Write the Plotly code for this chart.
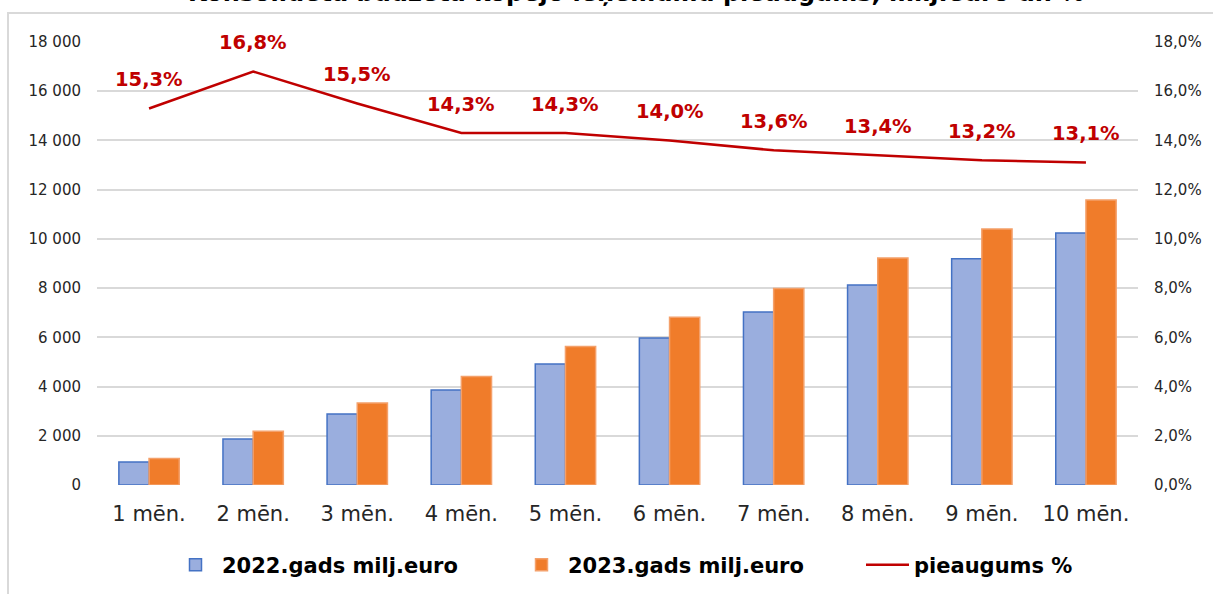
import plotly.graph_objects as go

categories = ["1 mēn.", "2 mēn.", "3 mēn.", "4 mēn.", "5 mēn.", "6 mēn.", "7 mēn.", "8 mēn.", "9 mēn.", "10 mēn."]
values_2022 = [935, 1870, 2886, 3860, 4920, 5975, 7030, 8130, 9190, 10240]
values_2023 = [1078, 2184, 3333, 4412, 5623, 6812, 7986, 9219, 10403, 11581]
growth_pct = [15.3, 16.8, 15.5, 14.3, 14.3, 14.0, 13.6, 13.4, 13.2, 13.1]
growth_labels = ["15,3%", "16,8%", "15,5%", "14,3%", "14,3%", "14,0%", "13,6%", "13,4%", "13,2%", "13,1%"]
left_ticks = [0, 2000, 4000, 6000, 8000, 10000, 12000, 14000, 16000, 18000]
left_tick_text = ["0", "2 000", "4 000", "6 000", "8 000", "10 000", "12 000", "14 000", "16 000", "18 000"]
right_ticks = [0, 2, 4, 6, 8, 10, 12, 14, 16, 18]
right_tick_text = ["0,0%", "2,0%", "4,0%", "6,0%", "8,0%", "10,0%", "12,0%", "14,0%", "16,0%", "18,0%"]
title_text = "Konsolidētā budžeta kopējo ieņēmumu pieaugums, milj.euro un %"

FONT = "DejaVu Sans"
W, H = 1213, 594
L, R, T, B = 97, 75, 42, 109
pw, ph = W - L - R, H - T - B

def px_x(p):
    return (p - L) / pw

def px_y(p):
    return (H - B - p) / ph

fig = go.Figure()
fig.add_trace(go.Bar(
    x=categories, y=values_2022, name="2022.gads milj.euro",
    marker=dict(color="#9aaede", line=dict(color="#4472c4", width=1.5)),
))
fig.add_trace(go.Bar(
    x=categories, y=values_2023, name="2023.gads milj.euro",
    marker=dict(color="#f07c2a", line=dict(color="#f4a06a", width=1.5)),
))
fig.add_trace(go.Scatter(
    x=categories, y=growth_pct, name="pieaugums %", yaxis="y2",
    mode="lines", line=dict(color="#c00000", width=2.5),
))

for c, v, t in zip(categories, growth_pct, growth_labels):
    fig.add_annotation(x=c, y=v, yref="y2", text=t, showarrow=False, yshift=29,
                       font=dict(family=FONT, size=19.5, color="#c00000", weight="bold"))

fig.add_annotation(xref="paper", yref="paper", x=px_x(636), y=px_y(-7), text=title_text,
                   showarrow=False, xanchor="center", yanchor="middle",
                   font=dict(family=FONT, size=24, color="#000000", weight="bold"))

fig.add_shape(type="rect", xref="paper", yref="paper",
              x0=px_x(8), x1=px_x(1240), y0=px_y(13), y1=px_y(640),
              line=dict(color="#d9d9d9", width=2), fillcolor="rgba(0,0,0,0)", layer="below")

fig.update_layout(
    width=W, height=H,
    margin=dict(l=L, r=R, t=T, b=B, autoexpand=False),
    paper_bgcolor="white", plot_bgcolor="white",
    font=dict(family=FONT, color="#262626"),
    barmode="group", bargap=0.42, bargroupgap=0,
    showlegend=True,
    legend=dict(orientation="h", x=px_x(169), xanchor="left", y=px_y(565), yanchor="middle",
                font=dict(family=FONT, size=21, color="#000000", weight="bold"),
                traceorder="normal", entrywidth=288, itemwidth=43),
    xaxis=dict(tickfont=dict(size=21, color="#262626"), showgrid=False,
               showline=False, ticks="", ticklabelstandoff=14),
    yaxis=dict(range=[0, 18000], tickvals=left_ticks, ticktext=left_tick_text,
               tickfont=dict(size=15, color="#262626"), showgrid=True,
               gridcolor="#d9d9d9", gridwidth=1.5, zeroline=False, showline=False,
               ticks="", ticklabelstandoff=15),
    yaxis2=dict(range=[0, 18], tickvals=right_ticks, ticktext=right_tick_text,
                overlaying="y", side="right", showgrid=False, zeroline=False,
                tickfont=dict(size=15, color="#262626"), ticks="", ticklabelstandoff=15),
)

fig.write_html("out.html", config={"displayModeBar": False},
               post_script="document.body.style.margin='0';")
